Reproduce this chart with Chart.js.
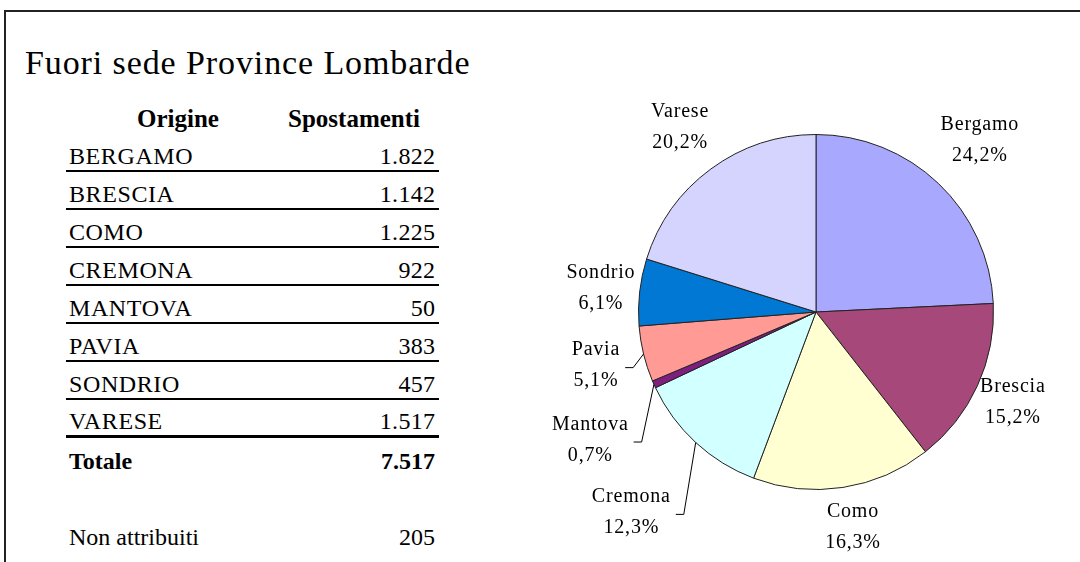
<!DOCTYPE html>
<html>
<head>
<meta charset="utf-8">
<script src="https://cdn.jsdelivr.net/npm/chart.js@4"></script>
<style>
  html, body { margin: 0; padding: 0; background: #fff; overflow: hidden; }
  body { width: 1080px; height: 562px; position: relative; font-family: "Liberation Serif", "DejaVu Serif", serif; color: #000; }
  .frame { position: absolute; left: 4px; top: 10px; width: 1200px; height: 700px; border-top: 2px solid #222; border-left: 2px solid #222; }
  .title { position: absolute; left: 25px; top: 46px; font-size: 34px; line-height: 34px; letter-spacing: 0.9px; white-space: nowrap; }
  .head { position: absolute; top: 106px; font-size: 25px; line-height: 25px; font-weight: bold; white-space: nowrap; transform: translateX(-50%); }
  #rows { position: absolute; left: 66px; top: 134px; width: 373px; }
  .row { height: 38px; display: flex; align-items: flex-end; justify-content: space-between; padding: 0 4px 2px 3px; box-sizing: border-box; border-bottom: 2px solid #000; font-size: 24px; line-height: 24px; letter-spacing: 0.6px; }
  .row span:last-child { letter-spacing: 0.3px; margin-right: -0.3px; }
  .row.last { border-bottom-width: 3px; }
  .tot { position: absolute; left: 66px; width: 373px; display: flex; justify-content: space-between; padding: 0 4px 0 3px; box-sizing: border-box; font-size: 24px; line-height: 24px; }
  #pie { position: absolute; left: 540px; top: 0; }
</style>
</head>
<body>
<div class="frame"></div>
<div class="title">Fuori sede Province Lombarde</div>
<div class="head" style="left:178px">Origine</div>
<div class="head" style="left:354px">Spostamenti</div>
<div id="rows"></div>
<div class="tot" id="totale" style="top:449px;font-weight:bold"></div>
<div class="tot" id="nonattr" style="top:525px"></div>
<canvas id="pie" width="540" height="562"></canvas>
<script>
const provinces = ["BERGAMO", "BRESCIA", "COMO", "CREMONA", "MANTOVA", "PAVIA", "SONDRIO", "VARESE"];
const pieLabels = ["Bergamo", "Brescia", "Como", "Cremona", "Mantova", "Pavia", "Sondrio", "Varese"];
const spostamenti = [1822, 1142, 1225, 922, 50, 383, 457, 1517];
const totale = 7517;
const nonAttribuiti = 205;

const sliceColors = ["#A8A8FF", "#A6487A", "#FFFFD2", "#D2FFFF", "#7E1E7E", "#FF9A94", "#0078D4", "#D4D4FF"];

// thousands separator like the Italian original
function fmt(n) {
  return String(n).replace(/\B(?=(\d{3})+(?!\d))/g, ".");
}

// table on the left
const rowsEl = document.getElementById("rows");
provinces.forEach((p, i) => {
  const r = document.createElement("div");
  r.className = "row" + (i === provinces.length - 1 ? " last" : "");
  r.innerHTML = "<span>" + p + "</span><span>" + fmt(spostamenti[i]) + "</span>";
  rowsEl.appendChild(r);
});
document.getElementById("totale").innerHTML = "<span>Totale</span><span>" + fmt(totale) + "</span>";
document.getElementById("nonattr").innerHTML = "<span>Non attribuiti</span><span>" + fmt(nonAttribuiti) + "</span>";

// labels outside the slices, with leader lines for the small ones
const pieLabelPlugin = {
  id: "pieLabels",
  afterDatasetsDraw(chart, args, opts) {
    const ctx = chart.ctx;
    const meta = chart.getDatasetMeta(0);
    const vals = chart.data.datasets[0].data;
    const sum = vals.reduce((a, b) => a + b, 0);
    ctx.save();
    ctx.font = opts.font;
    if ("letterSpacing" in ctx) ctx.letterSpacing = opts.letterSpacing;
    ctx.fillStyle = "#000";
    ctx.strokeStyle = "#000";
    ctx.lineWidth = 1;
    ctx.textAlign = "center";
    ctx.textBaseline = "middle";
    meta.data.forEach((arc, i) => {
      const p = arc.getProps(["x", "y", "startAngle", "endAngle", "outerRadius"], true);
      const mid = (p.startAngle + p.endAngle) / 2;
      const a = mid + (opts.shift[i] || 0) * Math.PI / 180;
      const d = p.outerRadius + opts.dist[i];
      const lx = p.x + Math.cos(a) * d;
      const ly = p.y + Math.sin(a) * d;
      const pct = (vals[i] / sum * 100).toFixed(1).replace(".", ",") + "%";
      const name = chart.data.labels[i];
      ctx.fillText(name, lx, ly - opts.lineGap / 2);
      ctx.fillText(pct, lx, ly + opts.lineGap / 2);
      if (opts.leader[i]) {
        const w = Math.max(ctx.measureText(name).width, ctx.measureText(pct).width);
        const ex = p.x + Math.cos(mid) * p.outerRadius;
        const ey = p.y + Math.sin(mid) * p.outerRadius;
        const sx = lx + w / 2 + 5;
        ctx.beginPath();
        ctx.moveTo(sx, ly + 2);
        ctx.lineTo(sx + 8, ly + 2);
        ctx.lineTo(ex, ey);
        ctx.stroke();
      }
    });
    ctx.restore();
  }
};

new Chart(document.getElementById("pie").getContext("2d"), {
  type: "pie",
  data: {
    labels: pieLabels,
    datasets: [{
      data: spostamenti,
      backgroundColor: sliceColors,
      borderColor: "#222",
      borderWidth: 1,
      hoverOffset: 0
    }]
  },
  options: {
    responsive: false,
    animation: false,
    devicePixelRatio: 1,
    layout: { padding: { left: 98, right: 86, top: 134, bottom: 72 } },
    plugins: {
      legend: { display: false },
      tooltip: { enabled: false },
      pieLabels: {
        font: "20px 'Liberation Serif'",
        letterSpacing: "0.8px",
        lineGap: 31,
        dist: [60, 39, 41, 95, 82, 49, 39, 52],
        shift: [0, 0, -1, 0, -5.5, 0, 0, 0],
        leader: [false, false, false, true, true, true, false, false]
      }
    }
  },
  plugins: [pieLabelPlugin]
});
</script>
</body>
</html>
